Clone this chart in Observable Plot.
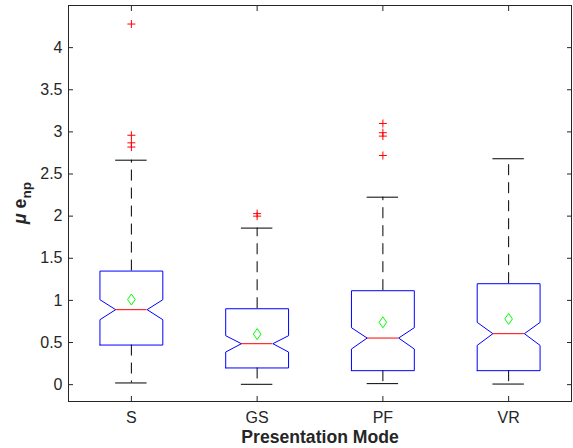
<!DOCTYPE html>
<html>
<head>
<meta charset="utf-8">
<script src="https://cdn.jsdelivr.net/npm/d3@7"></script>
<script src="https://cdn.jsdelivr.net/npm/@observablehq/plot@0.6"></script>
<style>
  html, body { margin: 0; padding: 0; background: white; }
</style>
</head>
<body>
<script>
// ---- data ----
const categories = ["S", "GS", "PF", "VR"];
const q1        = [0.470, 0.198, 0.166, 0.166];
const q3        = [1.348, 0.901, 1.115, 1.198];
const medians   = [0.890, 0.486, 0.553, 0.605];
const notchLo   = [0.771, 0.387, 0.423, 0.466];
const notchHi   = [1.008, 0.581, 0.676, 0.739];
const whiskerLo = [0.020, 0.004, 0.012, 0.007];
const whiskerHi = [2.664, 1.858, 2.225, 2.681];
const means     = [1.01, 0.60, 0.74, 0.78];
const outliers  = [[4.28, 2.96, 2.87, 2.82], [2.03, 2.00], [3.10, 2.99, 2.95, 2.72], []];
const yTicks      = [0, 0.5, 1, 1.5, 2, 2.5, 3, 3.5, 4];
const yTickLabels = ["0", "0.5", "1", "1.5", "2", "2.5", "3", "3.5", "4"];
const xTicks = [1, 2, 3, 4];
const xLabel = "Presentation Mode";

// ---- derived tables ----
const idx = categories.map((_, i) => i);
const boxW = 0.25, notchW = 0.125;
const boxPoints = idx.flatMap(i => {
  const x = i + 1;
  return [
    [x - boxW, q1[i]], [x + boxW, q1[i]], [x + boxW, notchLo[i]], [x + notchW, medians[i]],
    [x + boxW, notchHi[i]], [x + boxW, q3[i]], [x - boxW, q3[i]], [x - boxW, notchHi[i]],
    [x - notchW, medians[i]], [x - boxW, notchLo[i]], [x - boxW, q1[i]]
  ].map(([px, py]) => ({cat: categories[i], x: px, y: py}));
});
const outlierPts = idx.flatMap(i => outliers[i].map(v => ({x: i + 1, y: v})));

const plusSymbol = {
  draw(ctx) { const r = 4; ctx.moveTo(-r, 0); ctx.lineTo(r, 0); ctx.moveTo(0, -r); ctx.lineTo(0, r); }
};
const diamondSymbol = {
  draw(ctx) { const w = 3.8, h = 5.5; ctx.moveTo(0, -h); ctx.lineTo(w, 0); ctx.lineTo(0, h); ctx.lineTo(-w, 0); ctx.closePath(); }
};

const font = "'Liberation Sans', Arial, Helvetica, sans-serif";
const ink = "#262626";

const svg = Plot.plot({
  width: 573,
  height: 448,
  marginLeft: 68,
  marginRight: 2,
  marginTop: 5,
  marginBottom: 47,
  style: {fontFamily: font, color: ink, background: "white"},
  x: {domain: [0.5, 4.5]},
  y: {domain: [-0.2, 4.5]},
  marks: [
    Plot.axisX({ticks: xTicks, anchor: "bottom", tickSize: -5, tickPadding: 15, fontSize: 16,
                tickFormat: d => categories[d - 1], label: null, stroke: ink}),
    Plot.axisX({ticks: xTicks, anchor: "top", tickSize: -5, tickFormat: () => "", label: null, stroke: ink}),
    Plot.axisY({ticks: yTicks, anchor: "left", tickSize: -5, tickPadding: 11, fontSize: 16,
                tickFormat: d => yTickLabels[yTicks.indexOf(d)], label: null, stroke: ink}),
    Plot.axisY({ticks: yTicks, anchor: "right", tickSize: -5, tickFormat: () => "", label: null, stroke: ink}),
    // whiskers
    Plot.ruleX(idx, {x: i => i + 1, y1: i => q3[i], y2: i => whiskerHi[i], stroke: "black", strokeWidth: 1, strokeDasharray: "11,7"}),
    Plot.ruleX(idx, {x: i => i + 1, y1: i => q1[i], y2: i => whiskerLo[i], stroke: "black", strokeWidth: 1, strokeDasharray: "11,7"}),
    Plot.ruleY(idx, {y: i => whiskerHi[i], x1: i => i + 1 - notchW, x2: i => i + 1 + notchW, stroke: "black", strokeWidth: 1}),
    Plot.ruleY(idx, {y: i => whiskerLo[i], x1: i => i + 1 - notchW, x2: i => i + 1 + notchW, stroke: "black", strokeWidth: 1}),
    // notched boxes
    Plot.line(boxPoints, {x: "x", y: "y", z: "cat", stroke: "#0000ff", strokeWidth: 1, strokeLinejoin: "miter"}),
    // medians
    Plot.ruleY(idx, {y: i => medians[i], x1: i => i + 1 - notchW, x2: i => i + 1 + notchW, stroke: "#ff0000", strokeWidth: 1}),
    // means
    Plot.dot(idx, {x: i => i + 1, y: i => means[i], symbol: diamondSymbol, stroke: "#00ff00", fill: "none", strokeWidth: 1}),
    // outliers
    Plot.dot(outlierPts, {x: "x", y: "y", symbol: plusSymbol, stroke: "#ff0000", fill: "none", strokeWidth: 1}),
    Plot.frame({stroke: ink, strokeWidth: 1}),
    Plot.text([xLabel], {frameAnchor: "bottom", lineAnchor: "middle", dy: 36, text: d => d, fontSize: 17.6, fontWeight: "bold", fill: ink})
  ]
});

// y-axis label with subscript
const s = d3.select(svg);
const t = s.append("text")
  .attr("transform", "translate(25.5,203) rotate(-90)")
  .attr("text-anchor", "middle")
  .attr("font-family", font)
  .attr("font-weight", "bold")
  .attr("font-size", 17.6)
  .attr("fill", ink);
t.append("tspan").attr("font-style", "italic").text("μ");
t.append("tspan").text(" e");
t.append("tspan").attr("font-size", 13.5).attr("dy", 5).text("np");

document.body.appendChild(svg);
</script>
</body>
</html>
